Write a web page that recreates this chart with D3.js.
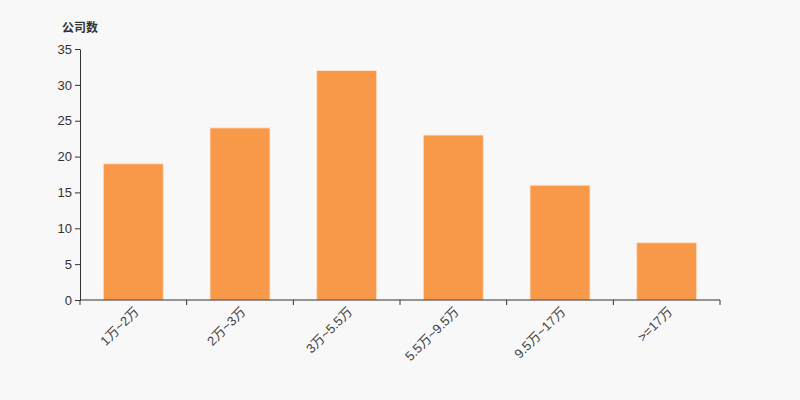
<!DOCTYPE html>
<html><head><meta charset="utf-8">
<script src="https://cdn.jsdelivr.net/npm/d3@7"></script>
<style>body{margin:0;background:#f8f8f8;}svg{display:block;font-family:"Liberation Sans","Noto Sans CJK SC",sans-serif;}</style>
</head><body><svg id="c" width="800" height="400"></svg>
<script>
const categories = ["1万~2万","2万~3万","3万~5.5万","5.5万~9.5万","9.5万~17万",">=17万"];
const values = [19,24,32,23,16,8];
const yTicks = [0,5,10,15,20,25,30,35];
const yTitle = "公司数";

const svg = d3.select("#c");
svg.append("rect").attr("width",800).attr("height",400).attr("fill","#f8f8f8");
const x = d3.scaleBand().domain(categories).range([80,720]).paddingInner(0.4375).paddingOuter(0.21875);
const y = d3.scaleLinear().domain([0,35]).range([300,49]);

svg.append("g").selectAll("rect").data(values).join("rect")
  .attr("x",(d,i)=>x(categories[i])).attr("width",x.bandwidth())
  .attr("y",d=>y(d)).attr("height",d=>y(0)-y(d))
  .attr("fill","#f89849").attr("stroke","rgba(255,230,210,0.8)").attr("stroke-width",1);

const ya = svg.append("g").attr("transform","translate(80,0)")
  .call(d3.axisLeft(y).tickValues(yTicks).tickSize(5).tickSizeOuter(0).tickPadding(3));
ya.selectAll("path,line").attr("stroke","#333");
ya.selectAll("text").attr("fill","#333").attr("font-size",13).attr("font-family","Liberation Sans, sans-serif");

const xs = d3.scaleLinear().domain([0,6]).range([80,720]);
const xa = svg.append("g").attr("transform","translate(0,300)");
xa.append("line").attr("x1",80).attr("x2",720).attr("stroke","#333");
xa.selectAll("line.t").data(d3.range(7)).join("line").attr("class","t")
  .attr("x1",d=>xs(d)).attr("x2",d=>xs(d)).attr("y1",0).attr("y2",5).attr("stroke","#333");
xa.selectAll("text").data(categories).join("text")
  .attr("transform",d=>`translate(${x(d)+x.bandwidth()/2},${6}) rotate(-45)`)
  .attr("text-anchor","end").attr("dy","0.7em")
  .attr("font-size",13).attr("fill","#444").text(d=>d);

svg.append("text").attr("x",62).attr("y",32).attr("font-size",12).attr("font-weight","bold")
  .attr("fill","#333").text(yTitle);
</script></body></html>
